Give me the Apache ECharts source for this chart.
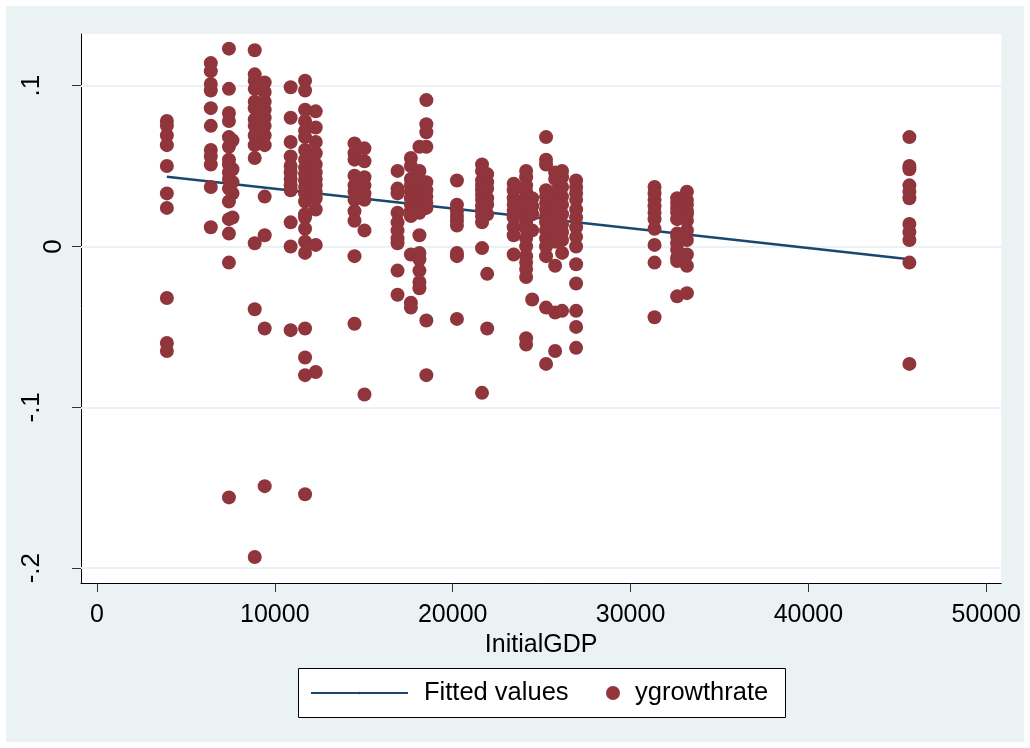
<!DOCTYPE html>
<html>
<head>
<meta charset="utf-8">
<script src="https://cdn.jsdelivr.net/npm/echarts@6/dist/echarts.min.js"></script>
<style>
  html, body { margin: 0; padding: 0; background: #ffffff; }
  #frame { position: absolute; left: 6px; top: 6px; width: 1018px; height: 736px; background: #EAF2F3; }
  #chart { width: 1018px; height: 736px; }
</style>
</head>
<body>
<div id="frame"><div id="chart"></div></div>
<script>
// Initial GDP of each country (one vertical column of yearly observations each)
const initialGDP = [3930, 6400, 7420, 7620, 8870, 9430, 10890, 11700, 12300, 14480,
  15040, 16900, 17650, 18130, 18520, 20240, 21650, 21940, 23430, 24130,
  24470, 25250, 25760, 26150, 26940, 31350, 32620, 33170, 45680];

// Yearly growth rates, aligned with initialGDP by position
const ygrowthrate = [
  [0.078, 0.075, 0.069, 0.063, 0.050, 0.033, 0.024, -0.032, -0.060, -0.065],
  [0.114, 0.109, 0.101, 0.097, 0.086, 0.075, 0.060, 0.056, 0.051, 0.037, 0.012],
  [0.123, 0.098, 0.083, 0.078, 0.068, 0.062, 0.054, 0.051, 0.046, 0.042, 0.036, 0.028, 0.017, 0.008, -0.010, -0.156],
  [0.066, 0.048, 0.040, 0.033, 0.018],
  [0.122, 0.107, 0.103, 0.098, 0.090, 0.086, 0.079, 0.075, 0.069, 0.063, 0.055, 0.002, -0.039, -0.193],
  [0.102, 0.096, 0.090, 0.085, 0.080, 0.075, 0.069, 0.063, 0.031, 0.007, -0.051, -0.149],
  [0.099, 0.080, 0.065, 0.056, 0.050, 0.046, 0.042, 0.038, 0.035, 0.015, 0.000, -0.052],
  [0.103, 0.097, 0.085, 0.078, 0.072, 0.068, 0.060, 0.054, 0.049, 0.045, 0.041, 0.037, 0.033, 0.028, 0.020, 0.018, 0.011, 0.003, -0.004, -0.051, -0.069, -0.080, -0.154],
  [0.084, 0.074, 0.065, 0.058, 0.051, 0.046, 0.042, 0.038, 0.034, 0.030, 0.023, 0.001, -0.078],
  [0.064, 0.058, 0.054, 0.044, 0.038, 0.034, 0.029, 0.022, 0.016, -0.006, -0.048],
  [0.061, 0.053, 0.043, 0.038, 0.033, 0.029, 0.010, -0.092],
  [0.047, 0.036, 0.033, 0.021, 0.015, 0.010, 0.005, 0.002, -0.015, -0.030],
  [0.055, 0.050, 0.042, 0.038, 0.034, 0.030, 0.026, 0.022, 0.019, -0.005, -0.035, -0.038],
  [0.062, 0.047, 0.042, 0.038, 0.034, 0.031, 0.028, 0.025, 0.021, 0.007, -0.004, -0.008, -0.015, -0.022, -0.026],
  [0.091, 0.076, 0.071, 0.062, 0.040, 0.035, 0.031, 0.027, 0.024, -0.046, -0.080],
  [0.041, 0.026, 0.022, 0.019, 0.016, 0.013, -0.004, -0.006, -0.045],
  [0.051, 0.047, 0.041, 0.038, 0.035, 0.032, 0.029, 0.025, 0.022, 0.019, 0.015, -0.001, -0.091],
  [0.045, 0.040, 0.036, 0.030, 0.026, 0.020, -0.017, -0.051],
  [0.039, 0.035, 0.030, 0.026, 0.022, 0.018, 0.012, 0.007, -0.005],
  [0.047, 0.043, 0.038, 0.034, 0.030, 0.026, 0.022, 0.018, 0.015, 0.011, 0.005, 0.000, -0.006, -0.010, -0.014, -0.019, -0.057, -0.061],
  [0.030, 0.025, 0.020, 0.010, -0.033],
  [0.068, 0.054, 0.051, 0.035, 0.031, 0.027, 0.023, 0.019, 0.015, 0.010, 0.005, 0.000, -0.006, -0.038, -0.073],
  [0.046, 0.042, 0.034, 0.029, 0.023, 0.018, 0.012, 0.006, 0.003, -0.012, -0.041, -0.065],
  [0.047, 0.043, 0.037, 0.031, 0.026, 0.020, 0.014, 0.009, 0.004, -0.004, -0.040],
  [0.041, 0.037, 0.033, 0.029, 0.023, 0.018, 0.012, 0.006, 0.000, -0.011, -0.023, -0.040, -0.050, -0.063],
  [0.037, 0.033, 0.029, 0.025, 0.021, 0.017, 0.011, 0.001, -0.010, -0.044],
  [0.030, 0.027, 0.024, 0.021, 0.017, 0.008, 0.006, 0.002, -0.002, -0.007, -0.009, -0.031],
  [0.034, 0.029, 0.026, 0.022, 0.020, 0.016, 0.010, 0.004, -0.005, -0.012, -0.029],
  [0.068, 0.050, 0.048, 0.038, 0.034, 0.030, 0.014, 0.009, 0.004, -0.010, -0.073]
];

// Linear fit: end points of the fitted line
const fittedGDP = [3930, 45680];
const fittedValues = [0.0434, -0.0079];

// Axis ticks
const xTicks = [0, 10000, 20000, 30000, 40000, 50000];
const yTicks = [-0.2, -0.1, 0, 0.1];

const navy = '#1A476F';
const maroon = '#90353B';
const gridColor = '#EAF2F3';
const font = '"Liberation Sans", Arial, sans-serif';

const scatterData = [];
initialGDP.forEach((g, i) => ygrowthrate[i].forEach(v => scatterData.push([g, v])));
const fittedData = fittedGDP.map((g, i) => [g, fittedValues[i]]);

// Stata-style number: drop the leading zero (.1, -.2)
function stataNum(v) {
  if (v === 0) return '0';
  const s = String(Math.abs(+v.toFixed(4))).replace(/^0/, '');
  return (v < 0 ? '-' : '') + s;
}

const chart = echarts.init(document.getElementById('chart'), null, { renderer: 'canvas' });
chart.setOption({
  backgroundColor: 'transparent',
  animation: false,
  textStyle: { fontFamily: font },
  grid: {
    show: true, backgroundColor: '#ffffff', borderWidth: 0,
    left: 75, top: 28, right: 21, bottom: 159
  },
  xAxis: {
    type: 'value', min: -898, max: 50842,
    axisLine: { show: true, onZero: false, lineStyle: { color: '#000', width: 1 } },
    axisTick: { show: true, length: 9, customValues: xTicks, lineStyle: { color: '#333', width: 1 } },
    axisLabel: {
      customValues: xTicks, fontSize: 25, color: '#000', margin: 20, fontFamily: font,
      formatter: v => String(Math.round(v))
    },
    splitLine: { show: false },
    name: 'InitialGDP', nameLocation: 'middle', nameGap: 45,
    nameTextStyle: { fontSize: 25, color: '#000', fontFamily: font }
  },
  yAxis: {
    type: 'value', min: -0.2092, max: 0.1321,
    axisLine: { show: true, onZero: false, lineStyle: { color: '#000', width: 1 } },
    axisTick: { show: true, length: 9, customValues: yTicks, lineStyle: { color: '#333', width: 1 } },
    axisLabel: {
      customValues: yTicks, rotate: 90, margin: 14, color: '#000',
      formatter: v => (v === 0 ? '{z|0}' : '{n|' + stataNum(v) + '}'),
      rich: {
        z: { fontSize: 26, color: '#000', fontFamily: font },
        n: { fontSize: 26, color: '#000', fontFamily: font, padding: [0, 0, 22, 0] }
      }
    },
    splitLine: { show: false }
  },
  legend: [
    {
      selectedMode: false, left: 304, top: 674, padding: 0,
      itemWidth: 97, itemHeight: 3,
      data: [{ name: 'Fitted values' }],
      textStyle: { fontSize: 25.5, color: '#000', fontFamily: font, padding: [0, 0, 0, 11] }
    },
    {
      selectedMode: false, left: 600, top: 674, padding: 0,
      itemWidth: 14, itemHeight: 14,
      data: [{ name: 'ygrowthrate', icon: 'circle' }],
      textStyle: { fontSize: 25.5, color: '#000', fontFamily: font, padding: [0, 0, 0, 10] }
    }
  ],
  graphic: [{
    type: 'rect', left: 292, top: 662, z: 0,
    shape: { width: 487, height: 49 },
    style: { fill: '#ffffff', stroke: '#000', lineWidth: 1 }
  }],
  series: [
    {
      name: 'Fitted values', type: 'line', data: fittedData,
      symbol: 'none', showSymbol: false, z: 2,
      lineStyle: { color: navy, width: 2.5 },
      itemStyle: { color: navy },
      markLine: {
        silent: true, symbol: 'none', z: 1, animation: false,
        label: { show: false },
        lineStyle: { color: gridColor, width: 2, type: 'solid' },
        data: yTicks.map(v => ({ yAxis: v }))
      }
    },
    {
      name: 'ygrowthrate', type: 'scatter', data: scatterData,
      symbol: 'circle', symbolSize: 14, z: 3,
      itemStyle: { color: maroon, opacity: 1 }
    }
  ]
});
</script>
</body>
</html>
